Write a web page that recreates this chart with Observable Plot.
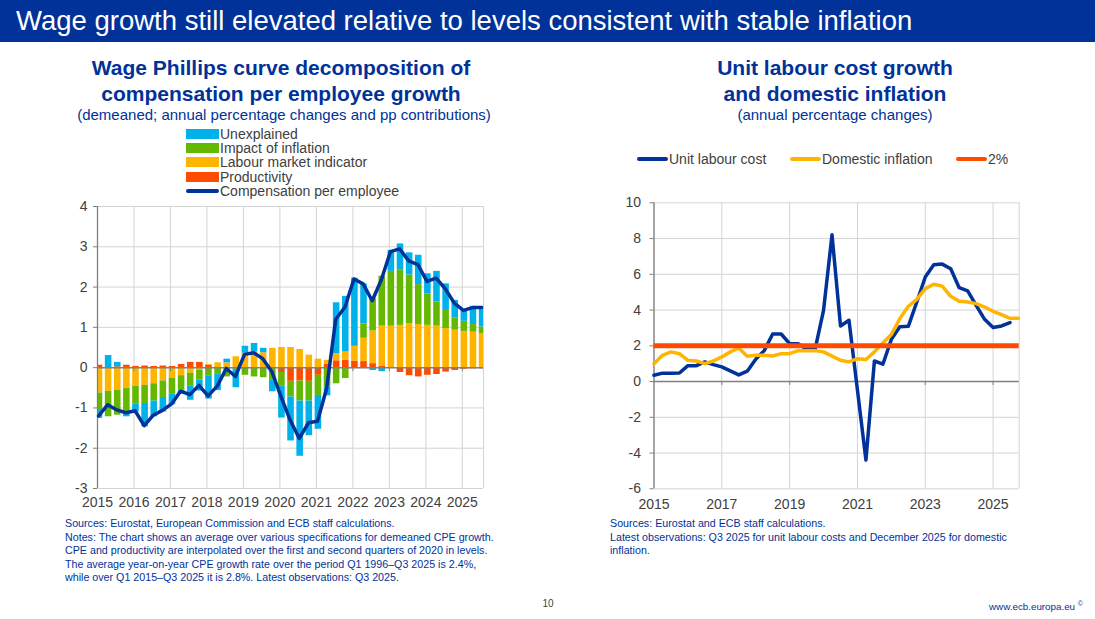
<!DOCTYPE html>
<html><head><meta charset="utf-8">
<script src="https://cdn.jsdelivr.net/npm/d3@7"></script>
<script src="https://cdn.jsdelivr.net/npm/@observablehq/plot@0.6"></script>
<style>
body{margin:0;background:#fff;font-family:"Liberation Sans",Arial,sans-serif;}
#page{position:relative;width:1095px;height:619px;overflow:hidden;background:#fff;}
.t{position:absolute;white-space:nowrap;}
.c{transform:translate(-50%,-50%);}
.l{transform:translate(0,-50%);}
#header{position:absolute;left:0;top:0;width:1095px;height:42px;background:#003299;}
.ttl{font-weight:bold;font-size:21px;color:#003299;}
.sub{font-size:15px;color:#003299;}
.leg{font-size:14px;color:#404040;}
.note{font-size:10.7px;color:#003299;line-height:13.5px;}
.plot{position:absolute;}
</style></head><body><div id="page">
<div id="header"></div>
<div class="t l" style="left:16px;top:21px;font-size:27.5px;color:#fff;">Wage growth still elevated relative to levels consistent with stable inflation</div>

<div class="t c ttl" style="left:281px;top:68px;">Wage Phillips curve decomposition of</div>
<div class="t c ttl" style="left:281px;top:94px;">compensation per employee growth</div>
<div class="t c sub" style="left:284px;top:114px;">(demeaned; annual percentage changes and pp contributions)</div>
<div id="legL"></div>

<div class="t c ttl" style="left:835px;top:68px;">Unit labour cost growth</div>
<div class="t c ttl" style="left:835px;top:94px;">and domestic inflation</div>
<div class="t c sub" style="left:835px;top:114px;">(annual percentage changes)</div>
<div id="legR"></div>

<div id="plotL" class="plot" style="left:50px;top:195px;"></div>
<div id="plotR" class="plot" style="left:600px;top:190px;"></div>

<div class="t note" style="left:65px;top:517px;">Sources: Eurostat, European Commission and ECB staff calculations.<br>Notes: The chart shows an average over various specifications for demeaned CPE growth.<br>CPE and productivity are interpolated over the first and second quarters of 2020 in levels.<br>The average year-on-year CPE growth rate over the period Q1 1996–Q3 2025 is 2.4%,<br>while over Q1 2015–Q3 2025 it is 2.8%. Latest observations: Q3 2025.</div>
<div class="t note" style="left:610px;top:517px;">Sources: Eurostat and ECB staff calculations.<br>Latest observations: Q3 2025 for unit labour costs and December 2025 for domestic<br>inflation.</div>
<div class="t c" style="left:548px;top:603px;font-size:10px;color:#404040;">10</div>
<div class="t c" style="left:1036px;top:606px;font-size:9.8px;color:#003299;">www.ecb.europa.eu <sup style="font-size:7px">©</sup></div>
</div>
<script>
// ---------- Left chart data (quarterly, 2015Q1–2025Q3) ----------
const leftYears = [2015,2016,2017,2018,2019,2020,2021,2022,2023,2024,2025];
const productivity = [0.06,0.00,0.02,0.06, 0.03,0.04,0.03,0.04, 0.03,0.08,0.13,0.13, 0.06,0.00,0.00,0.00,
  0.00,0.00,0.00,0.00, -0.12,-0.34,-0.33,-0.34, -0.19,0.08,0.17,0.18, 0.16,0.15,0.10,0.03,
  0.00,-0.12,-0.20,-0.23, -0.19,-0.17,-0.11,-0.07, -0.04,-0.03,-0.03];
const labour = [-0.63,-0.59,-0.56,-0.52, -0.46,-0.44,-0.40,-0.33, -0.26,-0.20,-0.14,-0.06, 0.02,0.12,0.12,0.27,
  0.36,0.39,0.37,0.48, 0.50,0.50,0.45,0.31, 0.21,0.10,0.18,0.21, 0.37,0.58,0.81,1.00,
  1.03,1.05,1.09,1.07, 1.05,1.03,0.97,0.93, 0.90,0.88,0.84];
const inflation = [-0.41,-0.63,-0.62,-0.58, -0.45,-0.45,-0.43,-0.41, -0.40,-0.36,-0.31,-0.25, -0.20,-0.15,-0.23,-0.05,
  -0.19,-0.23,-0.25,-0.30, -0.33,-0.39,-0.50,-0.49, -0.50,-0.48,-0.40,-0.27, 0.00,0.35,0.80,1.24,
  1.36,1.38,1.21,0.99, 0.78,0.60,0.45,0.30, 0.25,0.19,0.17];
const unexplained = [-0.22,0.30,0.11,-0.12, -0.19,-0.58,-0.39,-0.36, -0.26,-0.10,-0.36,-0.27, -0.58,-0.42,0.09,-0.45,
  0.17,0.21,0.11,-0.30, -0.80,-1.09,-1.37,-0.86, -0.84,-0.22,1.26,1.38, 1.69,1.00,-0.07,-0.10,
  0.52,0.64,0.55,0.73, 0.50,0.76,0.66,0.44, 0.30,0.45,0.51];
const cpe = [-1.20,-0.92,-1.05,-1.12, -1.07,-1.44,-1.18,-1.06, -0.90,-0.58,-0.67,-0.44, -0.70,-0.46,-0.02,-0.22,
  0.33,0.37,0.22,-0.10, -0.72,-1.30,-1.76,-1.37, -1.33,-0.52,1.20,1.50, 2.20,2.08,1.66,2.18,
  2.88,2.95,2.65,2.56, 2.14,2.22,1.96,1.60, 1.42,1.49,1.49];
const leftYTicks = [-3,-2,-1,0,1,2,3,4];

// ---------- Right chart data ----------
const ulc = [0.35,0.47,0.47,0.48, 0.89,0.89,1.10,0.95, 0.82,0.60,0.37,0.58, 1.25,1.73,2.66,2.66,
  2.12,2.12,1.80,1.80, 3.98,8.21,3.11,3.43, -0.48,-4.39,1.15,0.97, 2.36,3.07,3.09,4.45,
  5.85,6.54,6.57,6.31, 5.25,5.07,4.26,3.48, 3.02,3.11,3.30];
const domestic = [1.00,1.47,1.66,1.56, 1.19,1.15,1.00,1.15, 1.38,1.66,1.88,1.42, 1.47,1.47,1.43,1.56,
  1.56,1.73,1.73,1.73, 1.66,1.42,1.19,1.10, 1.28,1.23,1.66,2.16, 2.63,3.52,4.21,4.60,
  5.20,5.44,5.34,4.77, 4.49,4.45,4.36,4.17, 3.93,3.74,3.54,3.54];
const target = [2];
const rightXTicks = [2015,2017,2019,2021,2023,2025];
const rightYTicks = [-6,-4,-2,0,2,4,6,8,10];

// quarter index -> decimal year (quarter start)
const qTime = i => 2015 + i / 4;

const C = {blue:"#003299", yellow:"#FFB400", red:"#FF4B00", green:"#65B800", light:"#00B1EA"};
const font = "Liberation Sans, Arial, sans-serif";
const fmt = d => String(d);

// ---------- Left stacked table ----------
const leftSeries = [
  {key:"Productivity", values:productivity, color:C.red},
  {key:"Labour market indicator", values:labour, color:C.yellow},
  {key:"Impact of inflation", values:inflation, color:C.green},
  {key:"Unexplained", values:unexplained, color:C.light}
];
const stacked = [];
cpe.forEach((_, i) => {
  let pos = 0, neg = 0;
  leftSeries.forEach(s => {
    const v = s.values[i];
    if (v >= 0) { stacked.push({t:qTime(i), y1:pos, y2:pos+v, color:s.color}); pos += v; }
    else { stacked.push({t:qTime(i), y1:neg, y2:neg+v, color:s.color}); neg += v; }
  });
});
const cpeData = cpe.map((v,i)=>({t:qTime(i), v}));

const left = Plot.plot({
  width:450, height:325, marginLeft:47, marginRight:17, marginTop:11, marginBottom:32,
  style:{fontFamily:font, fontSize:"14px", color:"#404040", background:"transparent", overflow:"visible"},
  x:{domain:[2015,2025.58], label:null},
  y:{domain:[-3,4], label:null},
  marks:[
    Plot.gridY(leftYTicks, {stroke:"#d4d4d4", strokeOpacity:1}),
    Plot.gridX(leftYears, {stroke:"#d4d4d4", strokeOpacity:1}),
    Plot.ruleX([2025.58], {stroke:"#d4d4d4"}),
    Plot.rect(stacked, {x1:d=>d.t-0.035, x2:d=>d.t+0.145, y1:"y1", y2:"y2", fill:d=>d.color, clip:true}),
    Plot.ruleY([0], {stroke:"#808080", strokeWidth:1.5}),
    Plot.ruleX(leftYears.slice(1), {y1:0, y2:-0.1, stroke:"#808080"}),
    Plot.ruleX([2015], {stroke:"#808080", strokeWidth:1.3}),
    Plot.line(cpeData, {x:d=>d.t+0.03, y:"v", stroke:C.blue, strokeWidth:3.5, strokeLinejoin:"round"}),
    Plot.axisY(leftYTicks, {tickSize:4, tickPadding:6, stroke:"#808080", fontSize:14, tickFormat:fmt}),
    Plot.axisX(leftYears, {tickSize:0, tickPadding:9, tickFormat:fmt, fontSize:14})
  ]
});
document.getElementById("plotL").appendChild(left);

// ---------- Right chart ----------
const ulcData = ulc.map((v,i)=>({t:qTime(i), v}));
const domData = domestic.map((v,i)=>({t:qTime(i), v}));
const right = Plot.plot({
  width:440, height:330, marginLeft:53.5, marginRight:21.3, marginTop:12.3, marginBottom:31.7,
  style:{fontFamily:font, fontSize:"14px", color:"#404040", background:"transparent", overflow:"visible"},
  x:{domain:[2015,2025.77], label:null},
  y:{domain:[-6,10], label:null},
  marks:[
    Plot.gridY(rightYTicks, {stroke:"#d4d4d4", strokeOpacity:1}),
    Plot.gridX(rightXTicks, {stroke:"#d4d4d4", strokeOpacity:1}),
    Plot.ruleX([2025.77], {stroke:"#d4d4d4"}),
    Plot.ruleY([0], {stroke:"#808080", strokeWidth:1.5}),
    Plot.ruleX(rightXTicks.slice(1), {y1:0, y2:-0.22, stroke:"#808080"}),
    Plot.ruleX([2015], {stroke:"#808080", strokeWidth:1.3}),
    Plot.line(ulcData, {x:"t", y:"v", stroke:C.blue, strokeWidth:3.5, strokeLinejoin:"round"}),
    Plot.line(domData, {x:"t", y:"v", stroke:C.yellow, strokeWidth:3.5, strokeLinejoin:"round"}),
    Plot.ruleY(target, {stroke:C.red, strokeWidth:5}),
    Plot.axisY(rightYTicks, {tickSize:4, tickPadding:9, stroke:"#808080", fontSize:14, tickFormat:fmt}),
    Plot.axisX(rightXTicks, {tickSize:0, tickPadding:10, tickFormat:fmt, fontSize:14})
  ]
});
document.getElementById("plotR").appendChild(right);

// ---------- Legends ----------
const legLItems = [
  {label:"Unexplained", color:C.light, type:"box"},
  {label:"Impact of inflation", color:C.green, type:"box"},
  {label:"Labour market indicator", color:C.yellow, type:"box"},
  {label:"Productivity", color:C.red, type:"box"},
  {label:"Compensation per employee", color:C.blue, type:"line"}
];
const legL = document.getElementById("legL");
legLItems.forEach((it, k) => {
  const cy = 134 + k * 14.2;
  const sw = document.createElement("div");
  sw.style.cssText = `position:absolute;left:186px;width:33px;background:${it.color};` +
    (it.type === "box" ? `top:${cy-5}px;height:10px;` : `top:${cy-1.5}px;height:3.5px;border-radius:2px;`);
  legL.appendChild(sw);
  const tx = document.createElement("div");
  tx.className = "t l leg"; tx.style.left = "220px"; tx.style.top = cy + "px";
  tx.textContent = it.label; legL.appendChild(tx);
});
const legRItems = [
  {label:"Unit labour cost", color:C.blue, x:637},
  {label:"Domestic inflation", color:C.yellow, x:790},
  {label:"2%", color:C.red, x:956}
];
const legR = document.getElementById("legR");
legRItems.forEach(it => {
  const sw = document.createElement("div");
  sw.style.cssText = `position:absolute;left:${it.x}px;top:157px;width:31px;height:3.5px;border-radius:2px;background:${it.color};`;
  legR.appendChild(sw);
  const tx = document.createElement("div");
  tx.className = "t l leg"; tx.style.left = (it.x + 32) + "px"; tx.style.top = "159px";
  tx.textContent = it.label; legR.appendChild(tx);
});
</script>
</body></html>
